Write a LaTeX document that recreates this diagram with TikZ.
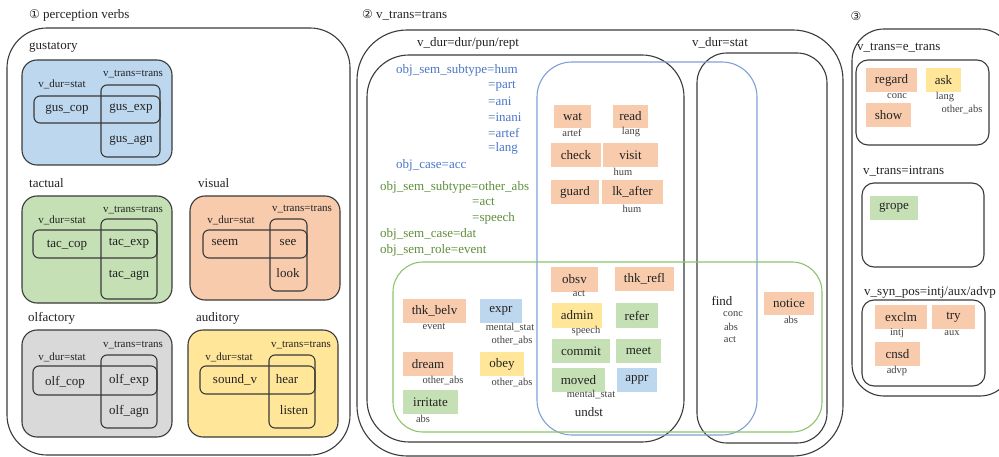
\documentclass[tikz,border=0pt]{standalone}
\usepackage{fontspec}
\setmainfont{Liberation Serif}
\newfontfamily\symfont{DejaVu Sans}
\definecolor{cblue}{HTML}{BDD7EE}
\definecolor{cgreen}{HTML}{C5E0B4}
\definecolor{corange}{HTML}{F8CBAD}
\definecolor{cgray}{HTML}{D9D9D9}
\definecolor{cyellow}{HTML}{FFE699}
\definecolor{linec}{HTML}{3A3A3A}
\definecolor{textc}{HTML}{222222}
\definecolor{smallc}{HTML}{404040}
\definecolor{tblue}{HTML}{4A76C6}
\definecolor{tgreen}{HTML}{5E8E3A}
\definecolor{lblue}{HTML}{7F9FD6}
\definecolor{lgreen}{HTML}{8CC46C}
\begin{document}
\begin{tikzpicture}[x=1pt,y=-1pt,
  frame/.style={draw=linec, line width=1.1pt},
  bigt/.style={font=\fontsize{13}{15}\selectfont, text=textc, inner sep=0},
  labt/.style={font=\fontsize{11}{13}\selectfont, text=textc, inner sep=0},
  tinyt/.style={font=\fontsize{10.5}{12}\selectfont, text=smallc, inner sep=0},
  bluet/.style={font=\fontsize{13}{15}\selectfont, text=tblue, inner sep=0, anchor=west},
  greent/.style={font=\fontsize{13}{15}\selectfont, text=tgreen, inner sep=0, anchor=west},
  vb/.style={fill=#1, minimum height=24pt, inner sep=0, font=\fontsize{13}{15}\selectfont, text=textc}]
\useasboundingbox (0,0) rectangle (999,457);
\clip (0,0) rectangle (999,457);

% ---------------- panel 1 ----------------
\node[bigt, anchor=west] (t1) at (29,15) {{\symfont\fontsize{12}{14}\selectfont ①} perception verbs};
\draw[frame, rounded corners=40] (7,28) rectangle (350,455);

% gustatory
\node[bigt, anchor=west] (lgus) at (29,47) {gustatory};
\draw[frame, fill=cblue, rounded corners=15] (22,60) rectangle (172,165);
\node[labt] (gtr) at (133,74) {v\_trans=trans};
\node[labt] (gds) at (62,84) {v\_dur=stat};
\draw[frame, rounded corners=6] (34,96) rectangle (160,123);
\draw[frame, rounded corners=6] (101,85) rectangle (160,157);
\node[bigt] (guscop) at (67,110) {gus\_cop};
\node[bigt] (gusexp) at (131,109) {gus\_exp};
\node[bigt] (gusagn) at (131,141) {gus\_agn};

% tactual
\node[bigt, anchor=west] (ltac) at (29,183) {tactual};
\draw[frame, fill=cgreen, rounded corners=15] (22,196) rectangle (172,303);
\node[labt] (ttr) at (133,210) {v\_trans=trans};
\node[labt] (tds) at (62,220) {v\_dur=stat};
\draw[frame, rounded corners=6] (33,230) rectangle (157,258);
\draw[frame, rounded corners=6] (101,219) rectangle (157,299);
\node[bigt] (taccop) at (67,245) {tac\_cop};
\node[bigt] (tacexp) at (129,243) {tac\_exp};
\node[bigt] (tacagn) at (129,275) {tac\_agn};

% visual
\node[bigt, anchor=west] (lvis) at (198,183) {visual};
\draw[frame, fill=corange, rounded corners=15] (190,196) rectangle (340,300);
\node[labt] (vtr) at (302,209) {v\_trans=trans};
\node[labt] (vds) at (231,220) {v\_dur=stat};
\draw[frame, rounded corners=6] (203,230) rectangle (307,258);
\draw[frame, rounded corners=6] (270,219) rectangle (307,291);
\node[bigt] (seem) at (225,243) {seem};
\node[bigt] (see) at (288,243) {see};
\node[bigt] (look) at (288,273) {look};

% olfactory
\node[bigt, anchor=west] (lolf) at (28,318) {olfactory};
\draw[frame, fill=cgray, rounded corners=15] (22,330) rectangle (172,437);
\node[labt] (otr) at (133,345) {v\_trans=trans};
\node[labt] (ods) at (62,357) {v\_dur=stat};
\draw[frame, rounded corners=6] (33,366) rectangle (157,395);
\draw[frame, rounded corners=6] (101,355) rectangle (157,428);
\node[bigt] (olfcop) at (65,382) {olf\_cop};
\node[bigt] (olfexp) at (129,380) {olf\_exp};
\node[bigt] (olfagn) at (129,411) {olf\_agn};

% auditory
\node[bigt, anchor=west] (laud) at (196,318) {auditory};
\draw[frame, fill=cyellow, rounded corners=15] (188,330) rectangle (338,437);
\node[labt] (atr) at (301,345) {v\_trans=trans};
\node[labt] (ads) at (229,357) {v\_dur=stat};
\draw[frame, rounded corners=6] (200,366) rectangle (315,394);
\draw[frame, rounded corners=6] (269,355) rectangle (315,428);
\node[bigt] (soundv) at (235,380) {sound\_v};
\node[bigt] (hear) at (287,379) {hear};
\node[bigt] (listen) at (294,410) {listen};

% ---------------- panel 2 ----------------
\node[bigt, anchor=west] (t2) at (362,15) {{\symfont\fontsize{12}{14}\selectfont ②} v\_trans=trans};
\draw[frame, rounded corners=50] (357,30) rectangle (843,456);
\node[bigt] (ldur) at (468,43) {v\_dur=dur/pun/rept};
\node[bigt] (lstat) at (720,43) {v\_dur=stat};
\draw[frame, rounded corners=42] (367,55) rectangle (684,442);
\draw[frame, rounded corners=30] (697,53) rectangle (827,443);
\draw[draw=lblue, line width=1.1pt, rounded corners=35] (537,62) rectangle (757,435);
\draw[draw=lgreen, line width=1.1pt, rounded corners=30] (393,262) rectangle (822,432);

\node[bluet] (b1) at (396,70) {obj\_sem\_subtype=hum};
\node[bluet] (b2) at (488,86) {=part};
\node[bluet] (b3) at (488,101) {=ani};
\node[bluet] (b4) at (488,117) {=inani};
\node[bluet] (b5) at (488,133) {=artef};
\node[bluet] (b6) at (488,148) {=lang};
\node[bluet] (b7) at (396,165) {obj\_case=acc};
\node[greent] (g1) at (380,187) {obj\_sem\_subtype=other\_abs};
\node[greent] (g2) at (472,202) {=act};
\node[greent] (g3) at (472,218) {=speech};
\node[greent] (g4) at (380,234) {obj\_sem\_case=dat};
\node[greent] (g5) at (380,250) {obj\_sem\_role=event};

\node[vb=corange, minimum width=37pt, minimum height=23pt] (wat) at (572.5,116.5) {wat};
\node[tinyt] (watl) at (572,133) {artef};
\node[vb=corange, minimum width=35pt, minimum height=23pt] (read) at (630.5,116.5) {read};
\node[tinyt] (readl) at (631,132) {lang};
\node[vb=corange, minimum width=50pt] (check) at (576,155) {check};
\node[vb=corange, minimum width=55pt] (visit) at (630.5,155) {visit};
\node[tinyt] (visitl) at (623,172) {hum};
\node[vb=corange, minimum width=48pt] (guard) at (575,192) {guard};
\node[vb=corange, minimum width=61pt] (lkafter) at (632.5,192) {lk\_after};
\node[tinyt] (lkl) at (632,209) {hum};

\node[vb=corange, minimum width=47pt, minimum height=25pt] (obsv) at (574.5,279.5) {obsv};
\node[tinyt] (obsvl) at (579,294) {act};
\node[vb=corange, minimum width=59pt] (thkrefl) at (644.5,279) {thk\_refl};
\node[vb=cyellow, minimum width=50pt, minimum height=25pt] (admin) at (577,315.5) {admin};
\node[tinyt] (adminl) at (586,331) {speech};
\node[vb=cgreen, minimum width=42pt, minimum height=25pt] (refer) at (637,315.5) {refer};
\node[vb=cgreen, minimum width=58pt] (commit) at (581,351) {commit};
\node[vb=cgreen, minimum width=45pt] (meet) at (638.5,351) {meet};
\node[vb=cgreen, minimum width=53pt] (moved) at (578.5,380) {moved};
\node[tinyt] (movedl) at (591,395) {mental\_stat};
\node[vb=cblue, minimum width=40pt] (appr) at (637,380) {appr};
\node[bigt] (undst) at (589,412) {undst};

\node[vb=corange, minimum width=63pt] (thkbelv) at (434.5,311) {thk\_belv};
\node[tinyt] (thkbelvl) at (434,327) {event};
\node[vb=cblue, minimum width=42pt] (expr) at (501,311) {expr};
\node[tinyt] (exprl1) at (510,328) {mental\_stat};
\node[tinyt] (exprl2) at (512,341) {other\_abs};
\node[vb=corange, minimum width=50pt] (dream) at (428,364) {dream};
\node[tinyt] (dreaml) at (443,381) {other\_abs};
\node[vb=cyellow, minimum width=44pt] (obey) at (502,364) {obey};
\node[tinyt] (obeyl) at (512,383) {other\_abs};
\node[vb=cgreen, minimum width=55pt] (irritate) at (430.5,402) {irritate};
\node[tinyt] (irritatel) at (423,419) {abs};

\node[bigt] (find) at (722,301) {find};
\node[tinyt] (findl1) at (733,314) {conc};
\node[tinyt] (findl2) at (731,327) {abs};
\node[tinyt] (findl3) at (730,340) {act};
\node[vb=corange, minimum width=50pt, minimum height=23pt] (notice) at (789,303.5) {notice};
\node[tinyt] (noticel) at (791,320) {abs};

% ---------------- panel 3 ----------------
\node[bigt] (t3) at (856,16) {\symfont\fontsize{12}{14}\selectfont ③};
\draw[frame, rounded corners=32] (852,29) rectangle (1012,396);
\node[bigt, anchor=west] (let) at (857,48) {v\_trans=e\_trans};
\draw[frame, rounded corners=12] (856,60) rectangle (989,145);
\node[vb=corange, minimum width=51pt] (regard) at (891.5,80) {regard};
\node[tinyt] (regardl) at (897,96) {conc};
\node[vb=cyellow, minimum width=35pt] (ask) at (943.5,80) {ask};
\node[tinyt] (askl1) at (945,97) {lang};
\node[tinyt] (askl2) at (962,110) {other\_abs};
\node[vb=corange, minimum width=45pt] (show) at (888.5,115) {show};

\node[bigt, anchor=west] (lint) at (863,171) {v\_trans=intrans};
\draw[frame, rounded corners=12] (862,183) rectangle (984,267);
\node[vb=cgreen, minimum width=48pt] (grope) at (894,208) {grope};

\node[bigt, anchor=west] (lsyn) at (864,292) {v\_syn\_pos=intj/aux/advp};
\draw[frame, rounded corners=12] (862,300) rectangle (985,386);
\node[vb=corange, minimum width=52pt] (exclm) at (901,317) {exclm};
\node[tinyt] (exclml) at (897,333) {intj};
\node[vb=corange, minimum width=43pt] (try) at (953.5,317) {try};
\node[tinyt] (tryl) at (952,333) {aux};
\node[vb=corange, minimum width=45pt] (cnsd) at (897.5,354) {cnsd};
\node[tinyt] (cnsdl) at (897,371) {advp};
\end{tikzpicture}
\end{document}
